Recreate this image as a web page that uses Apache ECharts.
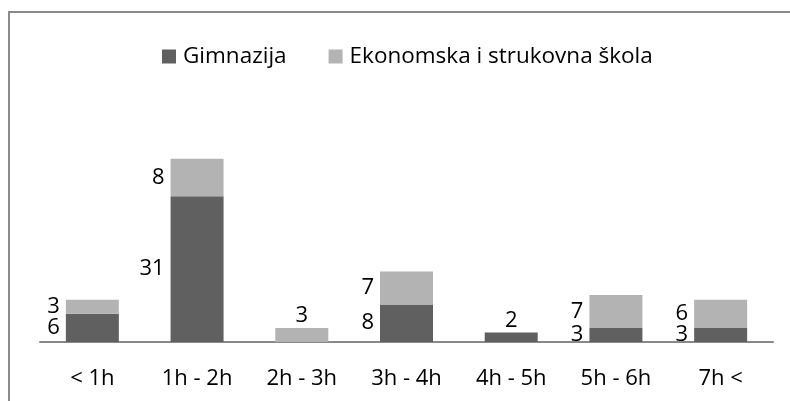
<!DOCTYPE html>
<html>
<head>
<meta charset="utf-8">
<script src="https://cdn.jsdelivr.net/npm/echarts@6/dist/echarts.min.js"></script>
<style>
  html, body { margin: 0; padding: 0; background: #fff; }
  #frame {
    position: absolute; left: 8px; top: 11px; width: 900px; height: 500px;
    border-left: 2px solid #8a8a8a; border-top: 2px solid #8a8a8a;
  }
  #main { position: absolute; left: 0; top: 0; width: 790px; height: 401px; }
</style>
</head>
<body>
<div id="frame"></div>
<div id="main"></div>
<script>
const categories = ['< 1h', '1h - 2h', '2h - 3h', '3h - 4h', '4h - 5h', '5h - 6h', '7h <'];
const gimnazija = [6, 31, 0, 8, 2, 3, 3];
const ekonomska = [3, 8, 3, 7, 0, 7, 6];
const seriesNames = ['Gimnazija', 'Ekonomska i strukovna škola'];

function initChart() {
    const chartDom = document.getElementById('main');
    const chart = echarts.init(chartDom);
    const font = 'Open Sans';

    // label sits above the bar when the other segment is empty, otherwise to its left
    const toItems = (vals, other) => vals.map((v, i) => ({
        value: v,
        label: other[i] === 0 ? { position: 'top', distance: 1 } : { position: 'left', distance: 6 }
    }));

    const labelStyle = {
        show: true,
        color: '#000',
        fontFamily: font,
        fontSize: 22,
        formatter: p => (p.value === 0 ? '' : p.value)
    };

    const option = {
        animation: false,
        legend: {
            left: 162,
            top: 45,
            padding: 0,
            itemWidth: 14,
            itemHeight: 14,
            itemGap: 42,
            icon: 'rect',
            textStyle: { color: '#000', fontFamily: font, fontSize: 22.5, padding: [0, 0, 0, 2] },
            data: seriesNames
        },
        grid: { left: 40, right: 17, top: 107, bottom: 59 },
        xAxis: {
            type: 'category',
            data: categories,
            axisLine: { lineStyle: { color: '#898989', width: 2 } },
            axisTick: { show: false },
            axisLabel: { color: '#000', fontFamily: font, fontSize: 22, margin: 26, interval: 0 }
        },
        yAxis: {
            type: 'value',
            min: 0,
            max: 50,
            show: false,
            splitLine: { show: false }
        },
        series: [
            {
                name: seriesNames[0],
                type: 'bar',
                stack: 'total',
                barWidth: 53,
                itemStyle: { color: '#606060' },
                label: labelStyle,
                data: toItems(gimnazija, ekonomska)
            },
            {
                name: seriesNames[1],
                type: 'bar',
                stack: 'total',
                barWidth: 53,
                itemStyle: { color: '#b3b3b3' },
                label: labelStyle,
                data: toItems(ekonomska, gimnazija)
            }
        ]
    };

    chart.setOption(option);
    window.addEventListener('resize', chart.resize);
}

document.addEventListener('DOMContentLoaded', initChart);
</script>
</body>
</html>
